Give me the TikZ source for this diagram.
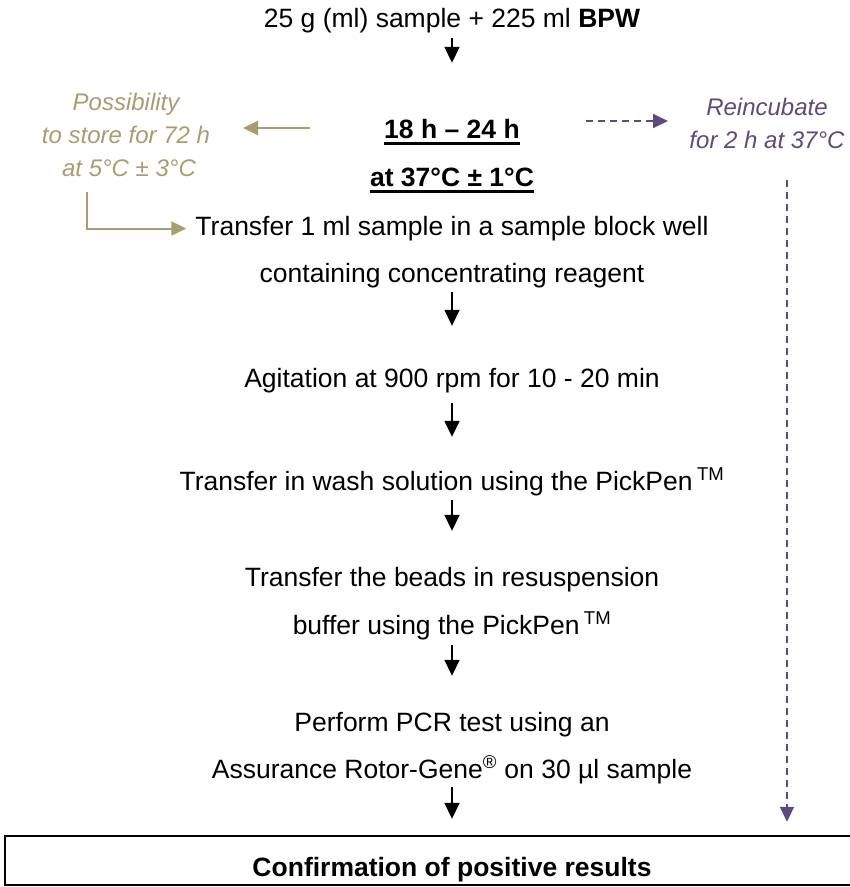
\documentclass[tikz,border=0pt]{standalone}
\usepackage{fontspec}
\setmainfont{Liberation Sans}
\usetikzlibrary{arrows.meta}
\definecolor{storetan}{RGB}{166,157,112}
\definecolor{incpurple}{RGB}{94,74,126}
\begin{document}
\begin{tikzpicture}[x=1pt, y=-1pt,
  stepline/.style={inner sep=0pt, anchor=base, text height=19pt, text depth=6pt,
    font=\fontsize{26.5}{30}\selectfont},
  sidenote/.style={inner sep=0pt, anchor=base, font=\fontsize{24}{28}\selectfont\itshape},
  flowarrow/.style={line width=1.6pt, -{Triangle[length=16pt,width=15pt]}},
  storearrow/.style={storetan, line width=2pt, -{Triangle[length=15pt,width=14pt]}},
  incarrow/.style={incpurple, line width=1.8pt, dash pattern=on 7pt off 5pt,
    -{Triangle[length=15pt,width=14pt]}},
  ulrule/.style={line width=2.4pt}
]
\useasboundingbox (0,0) rectangle (850,887);
\clip (0,0) rectangle (850,887);

% main column
\node[stepline] (n0) at (452,27) {25 g (ml) sample + 225 ml \textbf{BPW}};
\node[stepline, font=\fontsize{26.5}{30}\selectfont\bfseries] (n1) at (452,138) {18 h – 24 h};
\node[stepline, font=\fontsize{26.5}{30}\selectfont\bfseries] (n2) at (452,186) {at 37°C ± 1°C};
\node[stepline] (n3) at (452,235) {Transfer 1 ml sample in a sample block well};
\node[stepline] (n3b) at (452,282) {containing concentrating reagent};
\node[stepline] (n4) at (452,387) {Agitation at 900 rpm for 10 - 20 min};
\node[stepline] (n5) at (452,490) {Transfer in wash solution using the PickPen\,\textsuperscript{TM}};
\node[stepline] (n6) at (452,586) {Transfer the beads in resuspension};
\node[stepline] (n6b) at (452,634) {buffer using the PickPen\,\textsuperscript{TM}};
\node[stepline] (n7) at (452,731) {Perform PCR test using an};
\node[stepline] (n7b) at (452,778) {Assurance Rotor-Gene\textsuperscript{®} on 30 µl sample};
\node[inner sep=0pt, minimum width=894pt, minimum height=49pt,
  text height=33pt, text depth=2pt, font=\fontsize{26.5}{30}\selectfont\bfseries]
  (box) at (452,860.5) {Confirmation of positive results};
% result frame, running on past the right edge
\draw[line width=2.5pt] (box.north east) -- (box.north west) -- (box.south west) -- (box.south east);

% underlines of the incubation conditions
\draw[ulrule] ([yshift=-5.5pt]n1.base west) -- ([yshift=-5.5pt]n1.base east);
\draw[ulrule] ([yshift=-5.5pt]n2.base west) -- ([yshift=-5.5pt]n2.base east);

% side notes
\node[sidenote, text=storetan] (s1) at (126,110) {Possibility};
\node[sidenote, text=storetan] (s2) at (126,143) {to store for 72 h};
\node[sidenote, text=storetan] (s3) at (129,176) {at 5°C ± 3°C};
\node[sidenote, text=incpurple] (r1) at (767,115) {Reincubate};
\node[sidenote, text=incpurple] (r2) at (767,148) {for 2 h at 37°C};

% main flow arrows
\draw[flowarrow, shorten <=5pt, shorten >=56pt] (n0) -- (n1);
\draw[flowarrow, shorten <=4pt, shorten >=42pt] (n3b) -- (n4);
\draw[flowarrow, shorten <=10pt, shorten >=34pt] (n4) -- (n5);
\draw[flowarrow, shorten <=4pt, shorten >=36pt] (n5) -- (n6);
\draw[flowarrow, shorten <=5pt, shorten >=36pt] (n6b) -- (n7);
\draw[flowarrow, shorten <=3pt, shorten >=17pt] (n7b) -- (box);

% storage branch
\coordinate (storefrom) at (310,128);
\coordinate (storeto) at (243,128);
\draw[storearrow] (storefrom) -- (storeto);
\coordinate (storeback) at (87,192);
\draw[storearrow, shorten >=9pt] (storeback) |- (n3.west);

% reincubation branch
\coordinate (incfrom) at (586,121);
\coordinate (incto) at (668,121);
\draw[incarrow] (incfrom) -- (incto);
\coordinate (incdown) at (787,180);
\draw[incarrow, shorten >=14pt] (incdown) -- (incdown |- box.north);
\end{tikzpicture}
\end{document}
